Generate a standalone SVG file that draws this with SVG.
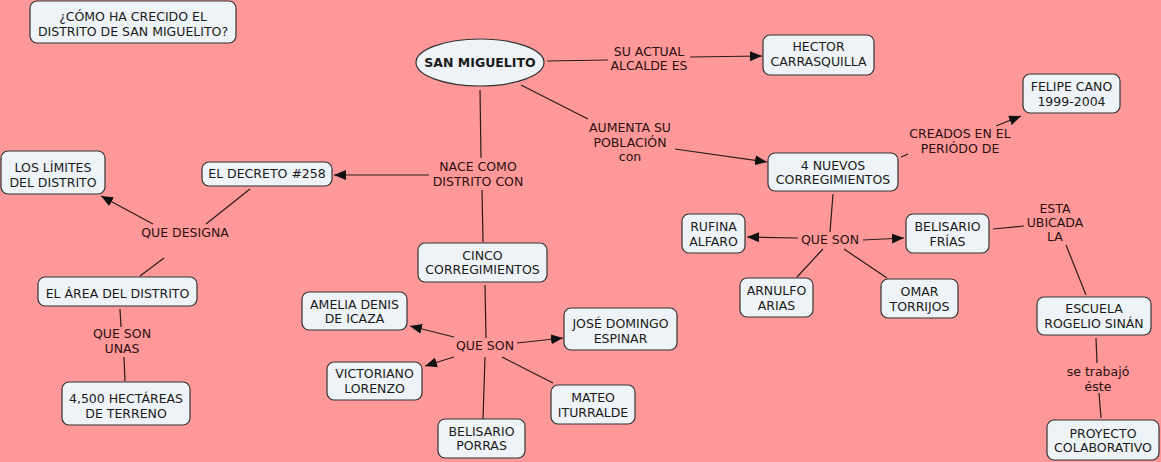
<svg xmlns="http://www.w3.org/2000/svg" width="1161" height="462" viewBox="0 0 1161 462">
<defs>
<marker id="arr" viewBox="0 0 12 10" refX="12" refY="5" markerWidth="12" markerHeight="10" markerUnits="userSpaceOnUse" orient="auto">
<path d="M0,0 L12,5 L0,10 Z" fill="#111"/>
</marker>
<style>
.n rect{fill:#EDF3F6;stroke:#333;stroke-width:1.2}
.n ellipse{fill:#EDF3F6;stroke:#333;stroke-width:1.2}
text{font-family:"DejaVu Sans",Verdana,sans-serif;font-size:12.5px;text-anchor:middle}
.n text{fill:#1a1a1a}
.l text{fill:#2b0f0f}
#connectors line{stroke:#2a1a1a;stroke-width:1.2;fill:none}
#connectors line.a{marker-end:url(#arr)}
</style>
</defs>
<rect width="1161" height="462" fill="#FF9999"/>
<g id="connectors">
<line x1="547" y1="61" x2="608" y2="60"/>
<line class="a" x1="690" y1="57" x2="762" y2="56"/>
<line x1="521" y1="85" x2="588" y2="119"/>
<line class="a" x1="675" y1="149" x2="767" y2="162"/>
<line x1="480" y1="90" x2="481" y2="158"/>
<line class="a" x1="429" y1="175" x2="334" y2="175"/>
<line x1="482" y1="190" x2="483" y2="242"/>
<line x1="250" y1="189" x2="206" y2="224"/>
<line class="a" x1="153" y1="224" x2="101" y2="196"/>
<line x1="164" y1="258" x2="140" y2="276"/>
<line x1="120" y1="309" x2="121" y2="327"/>
<line x1="124" y1="357" x2="125" y2="381"/>
<line x1="485" y1="285" x2="486" y2="338"/>
<line class="a" x1="454" y1="337" x2="410" y2="326"/>
<line class="a" x1="454" y1="357" x2="425" y2="366"/>
<line class="a" x1="517" y1="343" x2="563" y2="338"/>
<line x1="502" y1="357" x2="553" y2="383"/>
<line x1="485" y1="357" x2="483" y2="419"/>
<line x1="901" y1="157" x2="908" y2="154"/>
<line class="a" x1="996" y1="126" x2="1021" y2="116"/>
<line x1="833" y1="194" x2="830" y2="232"/>
<line class="a" x1="798" y1="238" x2="747" y2="237"/>
<line class="a" x1="863" y1="240" x2="904" y2="238"/>
<line x1="823" y1="249" x2="797" y2="277"/>
<line x1="844" y1="249" x2="887" y2="278"/>
<line x1="993" y1="229" x2="1024" y2="226"/>
<line x1="1066" y1="245" x2="1086" y2="295"/>
<line x1="1096" y1="338" x2="1097" y2="363"/>
<line x1="1099" y1="393" x2="1101" y2="418"/>
</g>
<g class="l" id="lbl-alcalde"><text x="649" y="55.5">SU ACTUAL</text><text x="649" y="69.5">ALCALDE ES</text></g>
<g class="l" id="lbl-aumenta"><text x="630" y="132">AUMENTA SU</text><text x="630" y="146.5">POBLACIÓN</text><text x="630" y="161">con</text></g>
<g class="l" id="lbl-nace"><text x="478" y="170.5">NACE COMO</text><text x="478" y="185.5">DISTRITO CON</text></g>
<g class="l" id="lbl-designa"><text x="185" y="237">QUE DESIGNA</text></g>
<g class="l" id="lbl-unas"><text x="122" y="338">QUE SON</text><text x="122" y="352.5">UNAS</text></g>
<g class="l" id="lbl-queson1"><text x="485" y="350">QUE SON</text></g>
<g class="l" id="lbl-creados"><text x="960" y="138">CREADOS EN EL</text><text x="960" y="152.5">PERIÓDO DE</text></g>
<g class="l" id="lbl-queson2"><text x="830" y="243.5">QUE SON</text></g>
<g class="l" id="lbl-ubicada"><text x="1055" y="212.5">ESTA</text><text x="1055" y="227">UBICADA</text><text x="1055" y="241">LA</text></g>
<g class="l" id="lbl-trabajo"><text x="1098" y="376">se trabajó</text><text x="1098" y="391">éste</text></g>
<g class="n" id="n-title"><rect x="30" y="1" width="206" height="42" rx="7"/><text x="133" y="21">¿CÓMO HA CRECIDO EL</text><text x="133" y="36">DISTRITO DE SAN MIGUELITO?</text></g>
<g class="n" id="n-sanmiguelito"><ellipse cx="480" cy="62.5" rx="64" ry="23.5"/><text x="480" y="67" font-weight="bold">SAN MIGUELITO</text></g>
<g class="n" id="n-hector"><rect x="763" y="35" width="111" height="40" rx="7"/><text x="818.5" y="51">HECTOR</text><text x="818.5" y="66">CARRASQUILLA</text></g>
<g class="n" id="n-4nuevos"><rect x="768" y="153" width="130" height="38" rx="7"/><text x="833" y="169.5">4 NUEVOS</text><text x="833" y="183.5">CORREGIMIENTOS</text></g>
<g class="n" id="n-felipe"><rect x="1023" y="74" width="97" height="39" rx="7"/><text x="1071.5" y="91">FELIPE CANO</text><text x="1071.5" y="106">1999-2004</text></g>
<g class="n" id="n-decreto"><rect x="202" y="162" width="130" height="24" rx="7"/><text x="267" y="178">EL DECRETO #258</text></g>
<g class="n" id="n-limites"><rect x="1" y="151" width="104" height="43" rx="7"/><text x="53" y="172">LOS LÍMITES</text><text x="53" y="186.5">DEL DISTRITO</text></g>
<g class="n" id="n-area"><rect x="38" y="277" width="159" height="29" rx="7"/><text x="117.5" y="298">EL ÁREA DEL DISTRITO</text></g>
<g class="n" id="n-hectareas"><rect x="62" y="382" width="128" height="43" rx="7"/><text x="126" y="403">4,500 HECTÁREAS</text><text x="126" y="418">DE TERRENO</text></g>
<g class="n" id="n-cinco"><rect x="418" y="243" width="129" height="39" rx="7"/><text x="482.5" y="260">CINCO</text><text x="482.5" y="274">CORREGIMIENTOS</text></g>
<g class="n" id="n-amelia"><rect x="302" y="292" width="105" height="38" rx="7"/><text x="354.5" y="308.5">AMELIA DENIS</text><text x="354.5" y="323">DE ICAZA</text></g>
<g class="n" id="n-jose"><rect x="564" y="308" width="113" height="42" rx="7"/><text x="620.5" y="328">JOSÉ DOMINGO</text><text x="620.5" y="343">ESPINAR</text></g>
<g class="n" id="n-victoriano"><rect x="327" y="362" width="95" height="38" rx="7"/><text x="374.5" y="378">VICTORIANO</text><text x="374.5" y="392.5">LORENZO</text></g>
<g class="n" id="n-mateo"><rect x="551" y="385" width="84" height="39" rx="7"/><text x="593" y="402">MATEO</text><text x="593" y="417">ITURRALDE</text></g>
<g class="n" id="n-porras"><rect x="438" y="419" width="87" height="39" rx="7"/><text x="481.5" y="436">BELISARIO</text><text x="481.5" y="450">PORRAS</text></g>
<g class="n" id="n-rufina"><rect x="682" y="214" width="63" height="39" rx="7"/><text x="713.5" y="230.5">RUFINA</text><text x="713.5" y="245.5">ALFARO</text></g>
<g class="n" id="n-frias"><rect x="906" y="214" width="83" height="39" rx="7"/><text x="947.5" y="230.5">BELISARIO</text><text x="947.5" y="245.5">FRÍAS</text></g>
<g class="n" id="n-arnulfo"><rect x="740" y="278" width="73" height="39" rx="7"/><text x="776.5" y="295">ARNULFO</text><text x="776.5" y="309.5">ARIAS</text></g>
<g class="n" id="n-omar"><rect x="881" y="279" width="77" height="39" rx="7"/><text x="919.5" y="296">OMAR</text><text x="919.5" y="310.5">TORRIJOS</text></g>
<g class="n" id="n-escuela"><rect x="1037" y="297" width="114" height="38" rx="7"/><text x="1094" y="313">ESCUELA</text><text x="1094" y="328">ROGELIO SINÁN</text></g>
<g class="n" id="n-proyecto"><rect x="1047" y="420" width="112" height="40" rx="7"/><text x="1103" y="438">PROYECTO</text><text x="1103" y="451.5">COLABORATIVO</text></g>
</svg>
